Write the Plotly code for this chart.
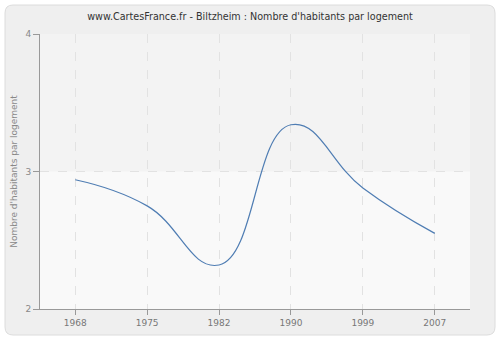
import plotly.graph_objects as go

years = ["1968", "1975", "1982", "1990", "1999", "2007"]
values = [2.94, 2.75, 2.32, 3.34, 2.88, 2.55]
y_ticks = [2, 3, 4]

W, H = 500, 340
L, R, T, B = 40, 30, 34, 31

def px_x(p):
    return (p - L) / (W - L - R)

def px_y(p):
    return (H - B - p) / (H - T - B)

fig = go.Figure()
fig.add_trace(go.Scatter(
    x=years, y=values, mode="lines",
    line=dict(color="#4f7db3", width=1.2, shape="spline", smoothing=1.3),
    hoverinfo="skip", showlegend=False,
))

# rounded outer panel
x0, x1, y0, y1, r = px_x(5), px_x(495), px_y(335), px_y(5), 8
rx = r / (W - L - R)
ry = r / (H - T - B)
path = (f"M {x0+rx},{y0} L {x1-rx},{y0} Q {x1},{y0} {x1},{y0+ry} "
        f"L {x1},{y1-ry} Q {x1},{y1} {x1-rx},{y1} L {x0+rx},{y1} "
        f"Q {x0},{y1} {x0},{y1-ry} L {x0},{y0+ry} Q {x0},{y0} {x0+rx},{y0} Z")
shapes = [
    dict(type="path", path=path, xref="paper", yref="paper",
         fillcolor="#efefef", line=dict(color="#dcdcdc", width=1), layer="below"),
    dict(type="rect", xref="paper", yref="paper", x0=0, x1=1, y0=0, y1=1,
         fillcolor="#f9f9f9", line=dict(width=0), layer="below"),
    dict(type="rect", xref="paper", yref="y", x0=0, x1=1, y0=3, y1=4,
         fillcolor="#f3f3f3", line=dict(width=0), layer="below"),
]

fig.update_layout(
    width=W, height=H,
    margin=dict(l=L, r=R, t=T, b=B, autoexpand=False),
    paper_bgcolor="white",
    plot_bgcolor="rgba(0,0,0,0)",
    shapes=shapes,
    title=dict(text="www.CartesFrance.fr - Biltzheim : Nombre d'habitants par logement",
               x=0.5, xanchor="center", y=1 - 17 / H, yanchor="middle",
               font=dict(family="DejaVu Sans", size=9.6, color="#333333")),
    font=dict(family="DejaVu Sans", size=9, color="#777777"),
    xaxis=dict(
        type="category", range=[-0.49, 5.49], automargin=False,
        showgrid=True, gridcolor="#e2e2e2", griddash="dash", gridwidth=1,
        showline=True, linecolor="#999999", linewidth=1,
        ticks="outside", ticklen=5, tickcolor="#999999",
        tickfont=dict(size=9, color="#777777"), zeroline=False,
    ),
    yaxis=dict(
        range=[2, 4], tickvals=y_ticks, ticktext=[str(v) for v in y_ticks],
        automargin=False,
        showgrid=True, gridcolor="#e2e2e2", griddash="dash", gridwidth=1,
        showline=True, linecolor="#999999", linewidth=1,
        ticks="outside", ticklen=6, tickcolor="#999999",
        tickfont=dict(size=9, color="#888888"), zeroline=False,
        title=dict(text="Nombre d'habitants par logement",
                   font=dict(size=9, color="#888888"), standoff=6),
    ),
)

fig.write_html("out.html")
